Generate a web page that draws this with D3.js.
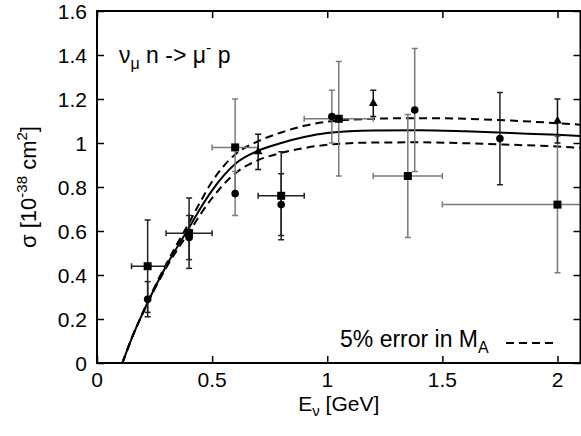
<!DOCTYPE html>
<html>
<head>
<meta charset="utf-8">
<script src="https://cdn.jsdelivr.net/npm/d3@7"></script>
<style>
  html, body { margin: 0; padding: 0; background: #fff; }
  svg { display: block; }
  text { font-family: "Liberation Sans", Arial, Helvetica, sans-serif; fill: #000; }
</style>
</head>
<body>
<svg id="chart" width="581" height="436"></svg>
<script>
// ---- Data ----
const xTicks = [0, 0.5, 1, 1.5, 2];
const xTickLabels = ["0", "0.5", "1", "1.5", "2"];
const yTicks = [0, 0.2, 0.4, 0.6, 0.8, 1, 1.2, 1.4, 1.6];
const yTickLabels = ["0", "0.2", "0.4", "0.6", "0.8", "1", "1.2", "1.4", "1.6"];

// theory curves (E in GeV, sigma in 1e-38 cm^2)
const curveE     = [0.11, 0.15, 0.2, 0.25, 0.3, 0.35, 0.4, 0.45, 0.5, 0.6, 0.7, 0.8, 0.9, 1.0, 1.2, 1.4, 1.6, 1.8, 2.0, 2.1];
const sigmaMain  = [0, 0.11, 0.23, 0.34, 0.44, 0.53, 0.615, 0.705, 0.785, 0.905, 0.965, 1.0, 1.027, 1.045, 1.057, 1.058, 1.053, 1.045, 1.037, 1.032];
const sigmaUpper = [0, 0.11, 0.232, 0.345, 0.448, 0.545, 0.637, 0.735, 0.825, 0.948, 1.008, 1.048, 1.078, 1.097, 1.11, 1.113, 1.11, 1.102, 1.09, 1.083];
const sigmaLower = [0, 0.11, 0.228, 0.335, 0.432, 0.517, 0.595, 0.677, 0.75, 0.862, 0.922, 0.955, 0.977, 0.992, 1.002, 1.003, 0.999, 0.992, 0.984, 0.978];

// data points: e, s, error low/high, optional x range
const squaresDark = [
  {e: 0.22, s: 0.44, lo: 0.23, hi: 0.65, x0: 0.15, x1: 0.30},
  {e: 0.40, s: 0.59, lo: 0.43, hi: 0.75, x0: 0.30, x1: 0.50},
  {e: 0.80, s: 0.76, lo: 0.56, hi: 0.96, x0: 0.70, x1: 0.90}
];
const squaresGray = [
  {e: 0.60, s: 0.98, lo: 0.76, hi: 1.20, x0: 0.50, x1: 0.70},
  {e: 1.05, s: 1.11, lo: 0.85, hi: 1.37, x0: 0.90, x1: 1.20},
  {e: 1.35, s: 0.85, lo: 0.57, hi: 1.13, x0: 1.20, x1: 1.50},
  {e: 2.00, s: 0.72, lo: 0.41, hi: 1.03, x0: 1.50, x1: 2.50}
];
const circlesDark = [
  {e: 0.22, s: 0.29, lo: 0.21, hi: 0.37},
  {e: 0.40, s: 0.57, lo: 0.47, hi: 0.67},
  {e: 0.80, s: 0.72, lo: 0.58, hi: 0.86},
  {e: 1.75, s: 1.02, lo: 0.81, hi: 1.23}
];
const circlesGray = [
  {e: 0.60, s: 0.77, lo: 0.67, hi: 0.87},
  {e: 1.02, s: 1.12, lo: 1.00, hi: 1.24},
  {e: 1.38, s: 1.15, lo: 0.87, hi: 1.43}
];
const triangles = [
  {e: 0.70, s: 0.96, lo: 0.88, hi: 1.04},
  {e: 1.20, s: 1.18, lo: 1.12, hi: 1.24},
  {e: 2.00, s: 1.10, lo: 1.00, hi: 1.20}
];

// ---- Layout ----
const svg = d3.select("#chart");
const L = 97, R = 580.5, T = 11, B = 363;
const x = d3.scaleLinear().domain([0, 2.1]).range([L, R]);
const y = d3.scaleLinear().domain([0, 1.6]).range([B, T]);
const FS = 21;

svg.append("defs").append("clipPath").attr("id", "clip")
  .append("rect").attr("x", L).attr("y", T).attr("width", R - L).attr("height", B - T);

// ticks (inward, mirrored) via d3 axes
const tickLen = 7;
function styleTicks(g) {
  g.select(".domain").remove();
  g.selectAll("line").attr("stroke", "#000").attr("stroke-width", 1.5);
}
svg.append("g").attr("transform", `translate(0,${B})`)
  .call(d3.axisTop(x).tickValues(xTicks).tickSize(tickLen).tickFormat("")).call(styleTicks);
svg.append("g").attr("transform", `translate(0,${T})`)
  .call(d3.axisBottom(x).tickValues(xTicks).tickSize(tickLen).tickFormat("")).call(styleTicks);
svg.append("g").attr("transform", `translate(${L},0)`)
  .call(d3.axisRight(y).tickValues(yTicks).tickSize(tickLen).tickFormat("")).call(styleTicks);
svg.append("g").attr("transform", `translate(${R},0)`)
  .call(d3.axisLeft(y).tickValues(yTicks).tickSize(tickLen).tickFormat("")).call(styleTicks);

// tick labels
svg.append("g").selectAll("text").data(xTicks).join("text")
  .attr("x", d => x(d)).attr("y", 387)
  .attr("text-anchor", "middle").attr("font-size", FS)
  .text((d, i) => xTickLabels[i]);
svg.append("g").selectAll("text").data(yTicks).join("text")
  .attr("x", 87).attr("y", d => y(d) + 7.5)
  .attr("text-anchor", "end").attr("font-size", FS)
  .text((d, i) => yTickLabels[i]);

// plot content
const plot = svg.append("g").attr("clip-path", "url(#clip)");
const line = d3.line().x(d => x(d[0])).y(d => y(d[1])).curve(d3.curveMonotoneX);
const mk = arr => curveE.map((e, i) => [e, arr[i]]);

plot.append("path").attr("d", line(mk(sigmaUpper)))
  .attr("fill", "none").attr("stroke", "#000").attr("stroke-width", 2).attr("stroke-dasharray", "8,5");
plot.append("path").attr("d", line(mk(sigmaLower)))
  .attr("fill", "none").attr("stroke", "#000").attr("stroke-width", 2).attr("stroke-dasharray", "8,5");
plot.append("path").attr("d", line(mk(sigmaMain)))
  .attr("fill", "none").attr("stroke", "#000").attr("stroke-width", 2);

const cap = 3;
function errorBars(data, color) {
  const g = plot.append("g").attr("stroke", color).attr("stroke-width", 1.5).attr("fill", "none");
  data.forEach(d => {
    g.append("line").attr("x1", x(d.e)).attr("x2", x(d.e)).attr("y1", y(d.lo)).attr("y2", y(d.hi));
    g.append("line").attr("x1", x(d.e) - cap).attr("x2", x(d.e) + cap).attr("y1", y(d.lo)).attr("y2", y(d.lo));
    g.append("line").attr("x1", x(d.e) - cap).attr("x2", x(d.e) + cap).attr("y1", y(d.hi)).attr("y2", y(d.hi));
    if (d.x0 !== undefined) {
      g.append("line").attr("x1", x(d.x0)).attr("x2", x(d.x1)).attr("y1", y(d.s)).attr("y2", y(d.s));
      g.append("line").attr("x1", x(d.x0)).attr("x2", x(d.x0)).attr("y1", y(d.s) - cap).attr("y2", y(d.s) + cap);
      g.append("line").attr("x1", x(d.x1)).attr("x2", x(d.x1)).attr("y1", y(d.s) - cap).attr("y2", y(d.s) + cap);
    }
  });
}
errorBars(squaresGray, "#7a7a7a");
errorBars(circlesGray, "#7a7a7a");
errorBars(squaresDark, "#222");
errorBars(circlesDark, "#222");
errorBars(triangles, "#111");

const sq = 8;
plot.append("g").selectAll("rect").data(squaresDark.concat(squaresGray)).join("rect")
  .attr("x", d => x(d.e) - sq / 2).attr("y", d => y(d.s) - sq / 2)
  .attr("width", sq).attr("height", sq).attr("fill", "#000");
plot.append("g").selectAll("circle").data(circlesDark.concat(circlesGray)).join("circle")
  .attr("cx", d => x(d.e)).attr("cy", d => y(d.s)).attr("r", 3.8).attr("fill", "#000");
const tri = d3.symbol().type(d3.symbolTriangle).size(34);
plot.append("g").selectAll("path").data(triangles).join("path")
  .attr("transform", d => `translate(${x(d.e)},${y(d.s)})`)
  .attr("d", tri).attr("fill", "#000");

// frame
svg.append("rect").attr("x", L).attr("y", T).attr("width", R - L).attr("height", B - T)
  .attr("fill", "none").attr("stroke", "#000").attr("stroke-width", 2);

// axis titles
const xl = svg.append("text").attr("x", (L + R) / 2).attr("y", 411)
  .attr("text-anchor", "middle").attr("font-size", 21);
xl.append("tspan").text("E");
xl.append("tspan").attr("dy", 5).attr("font-size", 15).text("ν");
xl.append("tspan").attr("dy", -5).text(" [GeV]");

const yl = svg.append("text").attr("transform", `translate(36,${(T + B) / 2}) rotate(-90)`)
  .attr("text-anchor", "middle").attr("font-size", 22);
yl.append("tspan").text("σ [10");
yl.append("tspan").attr("dy", -9).attr("font-size", 15).text("-38");
yl.append("tspan").attr("dy", 9).text(" cm");
yl.append("tspan").attr("dy", -9).attr("font-size", 15).text("2");
yl.append("tspan").attr("dy", 9).text("]");

// reaction label
const rl = svg.append("text").attr("x", 119).attr("y", 63).attr("font-size", 23);
rl.append("tspan").text("ν");
rl.append("tspan").attr("dy", 6).attr("font-size", 16).text("μ");
rl.append("tspan").attr("dy", -6).text(" n -> μ");
rl.append("tspan").attr("dy", -10).attr("font-size", 16).text("-");
rl.append("tspan").attr("dy", 10).text(" p");

// legend
const lg = svg.append("text").attr("x", 340).attr("y", 347).attr("font-size", 23);
lg.append("tspan").text("5% error in M");
lg.append("tspan").attr("dy", 6).attr("font-size", 16).text("A");
svg.append("line").attr("x1", 506).attr("x2", 553).attr("y1", 343).attr("y2", 343)
  .attr("stroke", "#000").attr("stroke-width", 2).attr("stroke-dasharray", "8,5");
</script>
</body>
</html>
